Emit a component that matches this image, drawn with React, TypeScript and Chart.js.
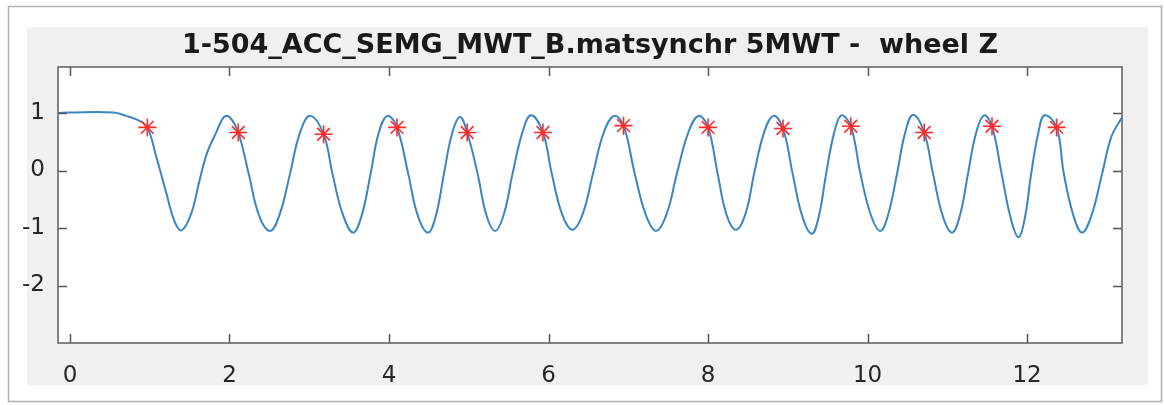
import React, { useEffect, useRef } from "react";
import { Chart, registerables } from "chart.js";

Chart.register(...registerables);

const chartTitle = "1-504_ACC_SEMG_MWT_B.matsynchr 5MWT -  wheel Z";

const timeS = [
  -0.15, 0.0, 0.55, 0.7, 0.86, 0.97, 1.08, 1.2, 1.31, 1.4,
  1.52, 1.62, 1.72, 1.84, 1.93, 2.0, 2.11, 2.24, 2.37, 2.51,
  2.63, 2.76, 2.88, 3.01, 3.18, 3.29, 3.42, 3.55,
  3.66, 3.77, 3.87, 3.98, 4.1, 4.24, 4.36, 4.49,
  4.59, 4.69, 4.79, 4.89, 4.98, 5.11, 5.22, 5.33,
  5.44, 5.55, 5.67, 5.78, 5.93, 6.04, 6.17, 6.3,
  6.43, 6.56, 6.69, 6.82, 6.94, 7.08, 7.22, 7.35,
  7.48, 7.61, 7.75, 7.88, 8.0, 8.12, 8.23, 8.35,
  8.47, 8.58, 8.7, 8.82, 8.94, 9.06, 9.18, 9.3,
  9.39, 9.48, 9.58, 9.67, 9.79, 9.91, 10.04, 10.16,
  10.26, 10.37, 10.47, 10.57, 10.71, 10.82, 10.94, 11.06,
  11.16, 11.26, 11.36, 11.46, 11.56, 11.68, 11.79, 11.89,
  11.97, 12.05, 12.14, 12.22, 12.37, 12.46, 12.58, 12.69,
  12.81, 12.94, 13.06, 13.19,
];

const wheelZ = [
  1.0, 1.01, 1.01, 0.95, 0.87, 0.75, 0.25, -0.35, -0.88, -1.04,
  -0.75, -0.2, 0.31, 0.68, 0.93, 0.93, 0.66, -0.05, -0.78, -1.05,
  -0.76, -0.05, 0.64, 0.95, 0.63, -0.05, -0.76, -1.08,
  -0.77, -0.05, 0.65, 0.95, 0.75, -0.05, -0.78, -1.08,
  -0.77, -0.05, 0.64, 0.93, 0.66, -0.05, -0.77, -1.05,
  -0.76, -0.05, 0.65, 0.96, 0.66, -0.05, -0.76, -1.03,
  -0.75, -0.04, 0.65, 0.95, 0.78, -0.05, -0.77, -1.05,
  -0.76, -0.05, 0.65, 0.95, 0.75, -0.05, -0.76, -1.03,
  -0.75, -0.04, 0.65, 0.95, 0.73, -0.05, -0.79, -1.1,
  -0.79, -0.06, 0.65, 0.96, 0.77, -0.05, -0.77, -1.05,
  -0.76, -0.05, 0.65, 0.97, 0.66, -0.05, -0.78, -1.08,
  -0.77, -0.05, 0.65, 0.96, 0.77, -0.05, -0.8, -1.16,
  -0.84, -0.07, 0.65, 0.96, 0.75, -0.05, -0.78, -1.08,
  -0.77, -0.06, 0.6, 0.92,
];

const starTimes = [0.97, 2.11, 3.18, 4.1, 4.98, 5.93, 6.94, 8.0, 8.94, 9.79, 10.71, 11.56, 12.37];
const starValues = [0.75, 0.66, 0.63, 0.75, 0.66, 0.66, 0.78, 0.75, 0.73, 0.77, 0.66, 0.77, 0.75];

const xTickValues = [0, 2, 4, 6, 8, 10, 12];
const yTickValues = [-2, -1, 0, 1];

const matlabFrame = {
  id: "matlabFrame",
  beforeDraw(chart: any) {
    const { ctx, chartArea: a } = chart;
    ctx.save();
    ctx.fillStyle = "#ffffff";
    ctx.fillRect(0, 0, chart.width, chart.height);
    ctx.strokeStyle = "#b0b0b0";
    ctx.lineWidth = 1.5;
    ctx.strokeRect(8.5, 6.5, 1153, 395);
    ctx.fillStyle = "#f0f0f0";
    ctx.fillRect(27, 27, 1121, 358);
    ctx.fillStyle = "#ffffff";
    ctx.fillRect(a.left, a.top, a.right - a.left, a.bottom - a.top);
    ctx.restore();
  },
  afterDatasetsDraw(chart: any) {
    const { ctx, chartArea: a, scales } = chart;
    const xs = scales.x;
    const ys = scales.y;
    const tl = 9;
    ctx.save();
    ctx.strokeStyle = "#555555";
    ctx.lineWidth = 1.5;
    ctx.beginPath();
    for (const v of xTickValues) {
      const px = Math.round(xs.getPixelForValue(v)) + 0.5;
      ctx.moveTo(px, a.bottom);
      ctx.lineTo(px, a.bottom - tl);
      ctx.moveTo(px, a.top);
      ctx.lineTo(px, a.top + tl);
    }
    for (const v of yTickValues) {
      const py = Math.round(ys.getPixelForValue(v)) + 0.5;
      ctx.moveTo(a.left, py);
      ctx.lineTo(a.left + tl, py);
      ctx.moveTo(a.right, py);
      ctx.lineTo(a.right - tl, py);
    }
    ctx.stroke();
    ctx.strokeStyle = "#666666";
    ctx.lineWidth = 1.6;
    ctx.strokeRect(a.left, a.top, a.right - a.left, a.bottom - a.top);
    ctx.restore();
  },
};

export default function App() {
  const canvasRef = useRef<HTMLCanvasElement | null>(null);

  useEffect(() => {
    document.body.style.margin = "0";
    const canvas = canvasRef.current;
    if (!canvas) return;
    const lineData = timeS.map((t, i) => ({ x: t, y: wheelZ[i] }));
    const starData = starTimes.map((t, i) => ({ x: t, y: starValues[i] }));
    const tickFont = { family: "DejaVu Sans", size: 23 };
    const chart = new Chart(canvas, {
      type: "line",
      data: {
        datasets: [
          {
            label: "peaks",
            data: starData,
            showLine: false,
            pointStyle: "star",
            pointRadius: 9,
            pointBorderColor: "#ff2a2a",
            pointBackgroundColor: "#ff2a2a",
            pointBorderWidth: 1.6,
            borderColor: "#ff2a2a",
          },
          {
            label: "wheel Z",
            data: lineData,
            borderColor: "#3a86c2",
            borderWidth: 2,
            pointRadius: 0,
            tension: 0.4,
            fill: false,
          },
        ],
      },
      options: {
        animation: false,
        responsive: false,
        events: [],
        layout: { padding: { top: 10, left: 0, right: 42, bottom: 0 } },
        plugins: {
          legend: { display: false },
          tooltip: { enabled: false },
          title: {
            display: true,
            text: chartTitle,
            fullSize: false,
            color: "#1a1a1a",
            font: { family: "DejaVu Sans", size: 27, weight: "bold" },
            padding: { top: 20, bottom: 4.6 },
          },
        },
        scales: {
          x: {
            type: "linear",
            min: -0.15,
            max: 13.19,
            afterBuildTicks(s: any) {
              s.ticks = xTickValues.map((v) => ({ value: v }));
            },
            afterFit(s: any) {
              s.height = 62;
            },
            grid: { display: false, drawTicks: false },
            border: { display: false },
            ticks: { font: tickFont, color: "#262626", padding: 19, maxRotation: 0, autoSkip: false },
          },
          y: {
            type: "linear",
            min: -3,
            max: 1.8,
            afterBuildTicks(s: any) {
              s.ticks = yTickValues.map((v) => ({ value: v }));
            },
            afterFit(s: any) {
              s.width = 58;
            },
            grid: { display: false, drawTicks: false },
            border: { display: false },
            ticks: { font: tickFont, color: "#262626", padding: 13, autoSkip: false },
          },
        },
      },
      plugins: [matlabFrame],
    } as any);
    return () => chart.destroy();
  }, []);

  return (
    <div style={{ position: "absolute", left: 0, top: 0, width: 1164, height: 405 }}>
      <canvas ref={canvasRef} width={1164} height={405} style={{ display: "block" }} />
    </div>
  );
}
